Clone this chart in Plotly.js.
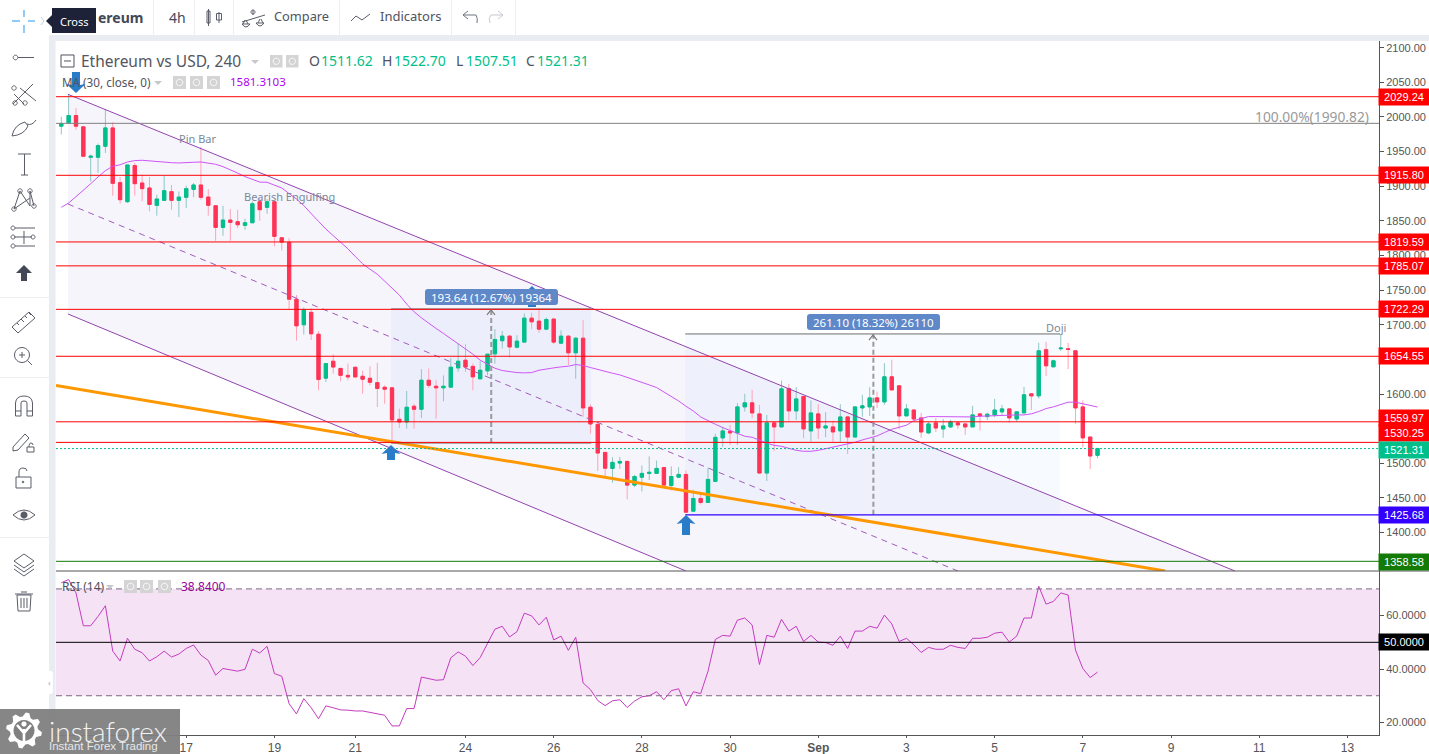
<!DOCTYPE html>
<html><head><meta charset="utf-8"><style>html,body{margin:0;padding:0;background:#fff;overflow:hidden}#c{width:1429px;height:754px}</style>
<script src="https://cdn.plot.ly/plotly-3.0.1.min.js"></script></head><body><div id="c"></div><script>
const openP=[1986.7,1991.5,2002.1,1985.7,1941.8,1941.8,1957.7,1984.2,1905.2,1877.7,1929.8,1904.7,1897.5,1872.4,1879.6,1892.2,1879.6,1884,1895.5,1901.8,1884.4,1871.9,1840.6,1851.2,1848.8,1843.5,1847.3,1877.7,1869.5,1877.7,1825.6,1819,1737,1700,1718,1686.4,1623,1647.4,1637,1627,1638.7,1625.7,1622.8,1616.5,1609.8,1609,1563.6,1559.7,1582.4,1578,1620,1611.3,1609,1610,1637.8,1648.9,1640,1622,1633.5,1658,1677,1683.6,1667.7,1675,1709.6,1705.3,1693.7,1708.2,1673.5,1683.6,1659.5,1680.7,1581,1556.3,1515.8,1492.7,1500.4,1502.8,1468.6,1480,1485.5,1485.5,1494,1468,1480,1484,1431,1449.3,1443.5,1473.9,1536.7,1546.3,1543.9,1581.5,1587.3,1571.4,1486,1558.4,1552.6,1608,1575.7,1596.5,1546.8,1571.4,1551,1552.6,1546.8,1567,1538,1580,1581.5,1594.5,1588.7,1624.9,1611.9,1568.5,1577,1565.6,1543.9,1558.4,1549.7,1552.6,1558.4,1556.9,1552.6,1571.4,1567.5,1569.9,1574.3,1578.6,1564,1572.8,1600.3,1597.4,1664,1639.4,1665.4,1665.4,1662.5,1581.5,1538,1511.62];
const highP=[2000.2,2032.5,2013.2,1986.7,1945.7,1961.6,2011.7,1992.4,1913.4,1930.7,1933.6,1916.7,1913.4,1887.8,1915.3,1901.8,1892.6,1900.8,1904.7,1956.8,1896,1871.9,1871.9,1867.1,1866.1,1853.1,1878.2,1883,1881.6,1877.7,1826.6,1825,1743,1725,1723.5,1691,1644,1657.5,1638,1644,1639,1634,1640,1645,1612.7,1610.3,1579,1604.5,1586,1636,1637,1620,1627,1652,1673,1672,1644,1647.4,1657.6,1693.7,1691,1685,1685,1716.4,1717.4,1722,1710.6,1710,1692,1685,1681.7,1706.7,1585,1559.7,1515.8,1509,1509,1504,1483.5,1497,1510,1504,1494,1495.6,1494.6,1489.8,1461.8,1457.5,1493.7,1542.8,1553,1555.5,1586.8,1600.3,1606,1584.4,1570,1560.3,1619.6,1614.8,1610,1597.4,1590.7,1585.4,1573.8,1561.3,1585.4,1568.5,1581.5,1598.9,1610,1603.7,1644.7,1649.5,1612.8,1585.8,1578,1572.8,1560.3,1565.6,1564,1562.7,1561.3,1557.9,1583,1572.3,1573.3,1593,1584.4,1578.6,1574.3,1610.4,1601.3,1674,1675.5,1649.5,1686.6,1674,1662.5,1590.7,1538,1522.7];
const lowP=[1974.6,1990.5,1981.8,1943.3,1907.1,1919.2,1948.1,1886.4,1874.8,1875.8,1886.4,1878.2,1863.7,1857.5,1879.6,1866.1,1855.5,1868.5,1884,1880.6,1857.5,1821.3,1828.5,1821.3,1839.6,1837.2,1846.8,1850.2,1860.3,1813.1,1807.3,1722,1677,1686,1678,1605.5,1617.5,1629.5,1618.5,1620,1624.7,1600.6,1612.7,1581.3,1586,1529.8,1551,1550,1550,1565.5,1609,1564.5,1589.6,1609,1632,1632,1605.5,1622,1627,1644,1665.8,1652.7,1665.8,1675,1693.7,1688.4,1693.7,1672,1672,1641.7,1622,1567,1543,1489,1480,1472,1492,1448,1465.7,1459.4,1476,1485,1468.6,1460.9,1479,1429.5,1429.5,1440.6,1443.5,1473.9,1524,1526.5,1526.5,1574.8,1565,1485.6,1474.5,1517.9,1552.6,1561.3,1562.7,1536.2,1531.4,1535.2,1537.6,1530.9,1530.9,1513.5,1538,1567.5,1568.5,1580,1584.4,1606,1549,1568.5,1562.7,1536.7,1542.5,1545.3,1536.7,1551.6,1549.7,1541,1552.6,1547.3,1562.7,1566.6,1568.5,1558.8,1560,1572.8,1577,1593.6,1626.3,1638.4,1662.5,1636,1556.9,1523.2,1491.8,1507.51];
const closeP=[1990.5,2002.1,1986.7,1943.3,1943.3,1958.7,1984.2,1904.2,1880.6,1930.7,1903.7,1896.5,1873.8,1881.6,1893.6,1879.6,1884.4,1896.5,1901.8,1884,1872.4,1840.6,1851.2,1847.8,1844.4,1847.3,1874.8,1866.1,1877.7,1827.6,1819.4,1737,1698.5,1721.6,1687,1621,1644,1639,1627,1624.7,1624.7,1621.4,1617,1608,1607,1562.6,1559.7,1581,1578,1620,1612.7,1609,1611.3,1638.8,1647.4,1639,1624.8,1634.4,1657.6,1678.8,1683.6,1668,1676.4,1709.6,1704.3,1693.7,1707.7,1675,1683.6,1659.5,1680.7,1580,1556.8,1514.9,1493,1501.4,1502.8,1468.6,1481,1485.5,1487,1492.7,1468.6,1481,1484,1429.5,1449.3,1443.5,1476.8,1537.5,1546.8,1543.9,1581.5,1587.3,1572.8,1486,1558.4,1552.6,1607.5,1575.7,1593,1549.7,1572.8,1551,1554,1545.3,1567,1538,1581.5,1583,1594.5,1588.7,1624.9,1606,1568.5,1578.6,1564,1545.3,1556.9,1551,1554,1559.8,1555.5,1552.6,1569.9,1568.5,1570.9,1577,1578.6,1565.6,1574.3,1598.9,1597.4,1662.5,1640.8,1648,1666.4,1664.4,1580,1536.7,1510.6,1521.31];
const maValues=[1869.5,1875.8,1885,1895,1903.7,1913.4,1922.5,1928.8,1931,1935,1937,1937.5,1936.5,1935.5,1934.6,1934,1933.6,1933.6,1934.6,1935,1933.6,1931.7,1928.3,1924,1919,1913.9,1909.5,1906,1905.7,1901.3,1897.5,1889.3,1881.6,1872,1861.3,1849.3,1838.2,1829,1820.3,1809.7,1798.6,1788,1780.3,1773,1763,1752.5,1742.9,1729.9,1718.8,1710.1,1701.9,1694.7,1687.5,1680.2,1672.5,1665.8,1657.6,1648.9,1642.6,1637.3,1634,1632,1631,1630.6,1631,1634.4,1636.4,1637.8,1639.2,1640.2,1642.6,1641.2,1638.3,1635.4,1632,1630.1,1627.7,1624.3,1620.9,1617.1,1613.2,1609.4,1603.1,1597.3,1590.1,1582.4,1575.6,1567,1561.3,1556.4,1551.6,1547.3,1543.4,1539.1,1537.6,1533.3,1529.4,1526,1524.6,1521.7,1518.8,1517.4,1517.4,1518.8,1521.2,1523.2,1525.1,1527.5,1530.4,1533.8,1536.7,1539.6,1544.4,1549.2,1552.1,1555,1561.7,1565.1,1567.5,1567.5,1567.5,1567.5,1567,1566.6,1567,1568,1568.5,1569,1569.4,1569.9,1569.9,1569.9,1571.4,1574.8,1579.1,1581.5,1584.4,1588.3,1588.3,1585.8,1583.9,1581.31];
const rsiValues=[72.3,73.5,68.5,56.2,56.2,59.7,63.7,46.7,43,51.5,47.4,46.1,43,44.6,46.7,44.5,45.6,47.7,49,45.2,43.2,37.7,40.2,39.8,39.2,39.9,47.4,46,48.5,38.3,37.3,27,23.2,28.9,25.5,21.4,26.2,25.5,24.7,24.6,24.3,24.3,23.8,23.2,22.7,18.7,18.7,25.2,25.2,37,36.4,35.8,36,44.2,46.4,44.8,41.3,44.3,49.6,54.9,56,52,54,60.9,59.9,56.5,59.4,50.9,52.3,47,51.9,34.8,32.3,28.2,26.3,28.1,28.5,25.6,28,29.6,30,31.5,28.5,31.9,32.6,26.2,31.5,30.8,39.2,51.1,52.6,52.3,58.3,59.1,56.5,41.7,52.6,51.9,58.6,54.2,56,50.3,52.6,50.1,49.9,48.9,52.3,47.7,54.2,54.2,56,55.3,60.2,56.9,50.3,51.5,49.1,46.2,48.1,47.4,47.4,48.9,48.1,47.7,51.5,51.5,51.9,53.4,53.8,50.1,52.3,59.1,59.1,71,64.3,65.3,68.5,67.7,47.1,40.2,36.8,38.84];
const levelValues=[2029.24,1915.80,1819.59,1785.07,1722.29,1654.55,1559.97,1530.25];
const levelLabelShift=[0,0,0,0,0,0,4,9];
const priceTicks=[2100,2050,2000,1950,1900,1850,1800,1750,1700,1600,1500,1450,1400];
const tickPositions=[5,17,29,40,55,67,79,91,103,115,127,139,151,163,175];
const tickLabels=['15','17','19','21','24','26','28','30','<b>Sep</b>','3','5','7','9','11','13'];
const candleIndex=openP.map((_,k)=>k);

const W=1429,H=754,L=56,R=1379;
const P=d=>d.replace(/(-?[\d.]+)[ ,](-?[\d.]+)/g,(m,a,b)=>(a/W).toFixed(5)+' '+(1-b/H).toFixed(5));
const shapes=[],annos=[];
const dark='#5a5d68';
function path(d,color,width,fill,dash){shapes.push({type:'path',xref:'paper',yref:'paper',path:P(d),layer:'above',line:{color:color||'rgba(0,0,0,0)',width:width===undefined?1:width,dash:dash||'solid'},fillcolor:fill||'rgba(0,0,0,0)'});}
function rect(x0,y0,x1,y1,fill){path(`M${x0} ${y0}L${x1} ${y0}L${x1} ${y1}L${x0} ${y1}Z`,null,0,fill);}
function circ(cx,cy,r,color,width,fill){let d='';for(let a=0;a<24;a++){const t=a/24*2*Math.PI;d+=(a?'L':'M')+(cx+r*Math.cos(t)).toFixed(2)+' '+(cy+r*Math.sin(t)).toFixed(2);}path(d+'Z',color,width,fill);}
function rrect(x0,y0,x1,y1,r,fill){path(`M${x0+r} ${y0}L${x1-r} ${y0}Q${x1} ${y0} ${x1} ${y0+r}L${x1} ${y1-r}Q${x1} ${y1} ${x1-r} ${y1}L${x0+r} ${y1}Q${x0} ${y1} ${x0} ${y1-r}L${x0} ${y0+r}Q${x0} ${y0} ${x0+r} ${y0}Z`,null,0,fill);}
function T(text,x,y,o={}){annos.push({text,x:x/W,y:1-y/H,xref:'paper',yref:'paper',showarrow:false,xanchor:o.a||'left',yanchor:'middle',borderpad:0,font:{family:o.f||'"Noto Sans",sans-serif',size:o.s||13,color:o.c||'#50535e',weight:o.w||400}});}
function priceLabel(v,bg,shift){annos.push({text:v.toFixed(2),x:1404/W,y:v,xref:'paper',yref:'y',showarrow:false,xanchor:'center',yanchor:'middle',yshift:shift||0,width:50,height:16,borderpad:0,bgcolor:bg,font:{family:'"Liberation Sans",Arial,sans-serif',size:11,color:'#fff'}});}

const fillS=(x0,x1,y0,y1,c)=>({type:'rect',xref:'x',yref:'y',x0,x1,y0,y1,layer:'below',line:{width:0},fillcolor:c});
shapes.push({type:'path',xref:'x',yref:'y',layer:'below',path:'M0.91 2032.7L159.7 1344.6L85 1344.6L0.91 1715.6Z',line:{width:0},fillcolor:'rgba(120,110,210,0.065)'});
shapes.push(fillS(44.87,72.1,1529.3,1722.8,'rgba(60,130,240,0.05)'));
shapes.push(fillS(84.9,135.9,1425.68,1686.8,'rgba(60,140,245,0.04)'));
shapes.push({type:'rect',xref:'paper',yref:'y2',x0:L/W,x1:R/W,y0:30,y1:70,layer:'below',line:{width:0},fillcolor:'#f5e2f4'});
const hl=(x0,x1,xr,y,c,w,d,yr)=>({type:'line',xref:xr,yref:yr||'y',x0,x1,y0:y,y1:y,layer:'above',line:{color:c,width:w,dash:d||'solid'}});
const tl=(x0,y0,x1,y1,c,w,d)=>({type:'line',xref:'x',yref:'y',x0,y0,x1,y1,layer:'above',line:{color:c,width:w,dash:d||'solid'}});
shapes.push(tl(0.91,2032.7,159.7,1344.6,'#9244ae',1));
shapes.push(tl(0.91,1874.4,122,1344.6,'#a05cbc',1,'6px,5px'));
shapes.push(tl(0.91,1715.6,85,1344.6,'#9244ae',1));
shapes.push(tl(-0.72,1612.4,150.2,1344.6,'#ff9800',3));
shapes.push(hl(44.87,72.1,'x',1722.9,'#6d6d6d',1));shapes.push(hl(44.87,72.1,'x',1529.3,'#6d6d6d',1));
shapes.push(hl(84.9,135.9,'x',1686.8,'#6d6d6d',1));
shapes.push(tl(58.5,1529.3,58.5,1722.9,'#9a9a9a',2,'5px,3px'));
shapes.push(tl(110.5,1425.68,110.5,1686.8,'#9a9a9a',2,'5px,3px'));
levelValues.forEach(v=>shapes.push(hl(L/W,R/W,'paper',v,'#ff0000',1)));
shapes.push(hl(L/W,R/W,'paper',1990.82,'#808080',1));
shapes.push(hl(L/W,R/W,'paper',1358.58,'#137a06',1));
shapes.push(hl(84.9,179.3,'x',1425.68,'#3300ff',1.3));
shapes.push(hl(L/W,R/W,'paper',closeP[closeP.length-1],'#00bf8a',1,'2px,2px'));
shapes.push(hl(L/W,R/W,'paper',70,'#7b6a80',1,'6px,4px','y2'));
shapes.push(hl(L/W,R/W,'paper',30,'#7b6a80',1,'6px,4px','y2'));
shapes.push(hl(L/W,R/W,'paper',50,'#000000',1,'solid','y2'));

path('M487 315L491 310L495 315','#7a7a7a',1.2);path('M869 340L873 335L877 340','#7a7a7a',1.2);
const blue='#2a7cc9';
function upArrow(x,y,h){path(`M${x} ${y}L${x+9.5} ${y+9}L${x+4} ${y+8}L${x+4} ${y+h}L${x-4} ${y+h}L${x-4} ${y+8}L${x-9.5} ${y+9}Z`,null,0,blue);}
function downArrow(x,y,h){path(`M${x} ${y}L${x+9.5} ${y-9}L${x+4} ${y-8}L${x+4} ${y-h}L${x-4} ${y-h}L${x-4} ${y-8}L${x-9.5} ${y-9}Z`,null,0,blue);}
downArrow(76,93,21);upArrow(391,445,15);upArrow(686,515,20);upArrow(532,286,21);
rrect(425,289,558,305,3,'#5f88c9');rrect(807,314,940,330,3,'#5f88c9');
T('193.64 (12.67%) 19364',491.5,297,{a:'center',s:11.5,c:'#fff'});
T('261.10 (18.32%) 26110',873.5,322,{a:'center',s:11.5,c:'#fff'});

rect(0,0,W,35,'#ffffff');rect(49,35,W,41,'#e9ecf1');rect(49,35,55.5,754,'#e9ecf1');
rect(0,0,49,754,'#ffffff');
[153,194,233,339,451,515].forEach(x=>rect(x,0,x+1,35,'#eceef1'));
[297,377,537].forEach(y=>rect(0,y,49,y+1,'#eceef1'));
rrect(45,671,53,694,3,'#ffffff');T('‹',47,682,{s:9,c:'#aab'});
rect(52,8,96,33,'#1e2239');path('M52 15L46 21L52 27Z',null,0,'#1e2239');T('Cross',74,21,{a:'center',s:11,c:'#fff'});
path('M12 21L20 21M28 21L35 21M24 10L24 17M24 25L24 33','#2196f3',1);path('M41 17L44 21L41 25','#c8ccd4',1);
path('M18 57.5L34 57.5',dark,1);circ(15.5,57.5,2.3,dark,1);
path('M13 104L33 84M14 94L24 104M20 88L36 101',dark,1);circ(14,88,2.2,dark,1);circ(15,103,2.2,dark,1);circ(25,103,2.2,dark,1);
path('M12 136Q14 125 25 122L28 126Q24 135 12 136ZM27 124Q32 126 36 120',dark,1);
path('M18 154L31 154M24.5 154L24.5 175M21 175L28 175',dark,1);
path('M14 209L20 191L30 206L30 191L34 206M14 209L30 198',dark,1);circ(14,209,2.2,dark,1);circ(20,191,2.2,dark,1);circ(30,191,2.2,dark,1);circ(34,206,2.2,dark,1);
path('M15 228L35 228M15 246L35 246M14 237L32 237M24 231L24 244',dark,1);circ(13,228,2,dark,1);circ(13,237,2,dark,1);circ(33,237,2,dark,1);circ(13,246,2,dark,1);
path('M24 265L32 273L27 273L27 281L21 281L21 273L16 273Z',null,0,'#434857');
path('M12 327L29 312L35 318L18 333Z M17 323L19 325M21 319L24 322M25 316L27 318M29 313L31 315',dark,1);
circ(22,355,7.5,dark,1);path('M27.5 360.5L32 365M19 355L25 355M22 352L22 358',dark,1);
path('M15.5 416L15.5 403Q16 396 24 396Q32 396 32.5 403L32.5 416L27 416L27 403Q27 401 24 401Q21 401 21 403L21 416ZM15.5 411L21 411M27 411L32.5 411',dark,1);
path('M13 447L25 434L29 438L18 450L13 451ZM27 452L34 452L34 447L27 447ZM29 447Q29 443 31 443Q33 443 33 445',dark,1);
path('M16 477L31 477L31 488L16 488ZM19 477L19 472Q19 468 23 468Q27 468 27 471',dark,1);circ(23,482,0.8,dark,1,dark);
path('M13 515Q24 505 35 515Q24 525 13 515Z',dark,1);circ(24,515,3.5,dark,0,dark);
path('M14 561L24 554L34 561L24 568ZM14 565L24 572L34 565M14 569L24 576L34 569',dark,1);
path('M17 595L31 595L30 611L18 611ZM15 594L33 594M21 592L27 592M21 598L21 608M24 598L24 608M27 598L27 608',dark,1);
T('ereum',97,17,{s:14,w:700,c:'#434857'});T('4h',168,17,{s:14,c:'#434857'});
T('Compare',273,16.5,{s:12.8});T('Indicators',379,16.5,{s:13});
path('M208.5 9L208.5 26M207 11L210 11L210 23L207 23ZM219 12L219 23M216.5 13.5L221.5 13.5L221.5 20L216.5 20Z',dark,1);
path('M253 10L253 15M242 22L265 15M245 20L243 24M246 20L248 24M260 19L258 23M261 19L263 23',dark,1);circ(253,12,2,dark,1);path('M242 24Q246 30 250 24ZM256 23Q260 29 264 23Z',dark,1);
path('M351 21L356 16L362 20L370 14',dark,1);
path('M463 15L468 11M463 15L468 19M463 15L476 15Q478 18 477 23','#6f7480',1);path('M503 15L498 11M503 15L498 19M503 15L491 15Q488 18 490 23','#c7cad0',1);
const g='#d4d4d4';
path('M61 55L74 55L74 67L61 67ZM64 61L71 61','#50535e',1);
T('Ethereum vs USD, 240',80,61,{s:15.5,c:'#53565f'});path('M251 60L259 60L255 64Z',null,0,'#c6c8cc');
function pill(x,y,sz){rect(x,y,x+sz,y+sz,g);circ(x+sz/2,y+sz/2,sz/4,'#fff',1);}
pill(270,55,12.5);pill(286,55,12.5);
const gr='#00bf8a';
T('O',308,61,{s:14});T('1511.62',320,61,{s:14,c:gr});T('H',381,61,{s:14});T('1522.70',393,61,{s:14,c:gr});T('L',455,61,{s:14});T('1507.51',465,61,{s:14,c:gr});T('C',525,61,{s:14});T('1521.31',536,61,{s:14,c:gr});
T('MA (30, close, 0)',61,82,{s:11.7});path('M154 81L162 81L158 85Z',null,0,'#c6c8cc');pill(173,76,13);pill(190,76,13);pill(207,76,13);
T('1581.3103',229,82,{s:11.5,c:'#b400f0'});
T('RSI (14)',61,586,{s:12});path('M106 585L114 585L110 589Z',null,0,'#c6c8cc');pill(124,580,13);pill(140,580,13);pill(158,580,13);
T('38.8400',180,586,{s:12,c:'#990099'});
T('Pin Bar',197,139,{a:'center',s:11,c:'#7b8a98'});T('Bearish Engulfing',289,196,{a:'center',s:11,c:'#7b8a98'});T('Doji',1056,327,{a:'center',s:11,c:'#7b8a98'});
T('100.00%(1990.82)',1370,117,{a:'right',s:13.8,c:'#9a9a9a'});
levelValues.forEach((v,k)=>priceLabel(v,'#ff0000',levelLabelShift[k]));
priceLabel(closeP[closeP.length-1],'#00bf8a',-1);
priceLabel(1425.68,'#3300ff',0);priceLabel(1358.58,'#137a06',-1);
annos.push({text:'50.0000',x:1404/W,y:50,xref:'paper',yref:'y2',showarrow:false,xanchor:'center',yanchor:'middle',width:50,height:16,borderpad:0,bgcolor:'#000',font:{family:'"Liberation Sans",Arial,sans-serif',size:11,color:'#fff'}});
rect(0,709,180,754,'rgba(128,128,128,0.95)');
let gear='';for(let k=0;k<32;k++){const a=k/32*2*Math.PI,r=(k%4<2)?18:14;gear+=(k?'L':'M')+(24+r*Math.cos(a+.1)).toFixed(2)+' '+(730.5+r*Math.sin(a+.1)).toFixed(2);}
path(gear+'Z',null,0,'#ffffff');
circ(24,730.5,10.5,null,0,'#808080');
path('M24 729L24 744M17 725L24 733L31 725','#ffffff',2.6);circ(24,724,2.6,null,0,'#ffffff');
T('instaforex',48,731,{s:28,c:'#f2f2f2',f:'Lato,sans-serif',w:300});
T('Instant Forex Trading',48,746,{s:11.5,c:'#e6e6e6',f:'"Liberation Sans",sans-serif'});

const wick=(up,dn)=>({increasing:{line:{color:up,width:1},fillcolor:up},decreasing:{line:{color:dn,width:1},fillcolor:dn}});
const bodyHigh=openP.map((o,k)=>Math.max(o,closeP[k])),bodyLow=openP.map((o,k)=>Math.min(o,closeP[k]));
const traces=[
 Object.assign({type:'candlestick',x:candleIndex,open:openP,high:highP,low:lowP,close:closeP,xaxis:'x',yaxis:'y',hoverinfo:'skip',showlegend:false},wick('#8fc6c4','#ffa3b4')),
 Object.assign({type:'candlestick',x:candleIndex,open:openP,high:bodyHigh,low:bodyLow,close:closeP,xaxis:'x',yaxis:'y',hoverinfo:'skip',showlegend:false},wick('#00bf8a','#ff3355')),
 {type:'scatter',mode:'lines',x:candleIndex,y:maValues,xaxis:'x',yaxis:'y',line:{color:'#cf55f5',width:1},hoverinfo:'skip',showlegend:false},
 {type:'scatter',mode:'lines',x:candleIndex,y:rsiValues,xaxis:'x',yaxis:'y2',line:{color:'#c43cc0',width:1},hoverinfo:'skip',showlegend:false}
];
const ax='#555555',tf={family:'"Liberation Sans",Arial,sans-serif',size:11,color:'#555'};
const layout={width:W,height:H,margin:{l:0,r:0,t:0,b:0},paper_bgcolor:'#fff',plot_bgcolor:'#fff',showlegend:false,boxgap:0.36,hovermode:false,dragmode:false,
 xaxis:{domain:[L/W,R/W],range:[-0.72,179.3],anchor:'y2',tickmode:'array',tickvals:tickPositions,ticktext:tickLabels,ticks:'outside',ticklen:2,tickcolor:ax,showgrid:false,zeroline:false,showline:true,linecolor:ax,linewidth:1,tickfont:{family:tf.family,size:12,color:'#555'},rangeslider:{visible:false}},
 yaxis:{domain:[1-571/H,1-40/H],range:[1344.6,2111.1],anchor:'x',side:'right',tickmode:'array',tickvals:priceTicks,tickformat:'.2f',ticks:'outside',ticklen:4,tickcolor:ax,showgrid:false,zeroline:false,showline:true,linecolor:ax,tickfont:tf},
 yaxis2:{domain:[1-735/H,1-571/H],range:[15.3,76.7],anchor:'x',side:'right',tickmode:'array',tickvals:[20,40,60],tickformat:'.4f',ticks:'outside',ticklen:4,tickcolor:ax,showgrid:false,zeroline:false,showline:true,linecolor:ax,tickfont:tf},
 shapes:shapes.concat([{type:'line',xref:'paper',yref:'paper',x0:L/W,x1:1429/W,y0:1-571/H,y1:1-571/H,layer:'above',line:{color:ax,width:1}}]),annotations:annos};
Plotly.newPlot('c',traces,layout,{displayModeBar:false,staticPlot:true});
</script></body></html>
